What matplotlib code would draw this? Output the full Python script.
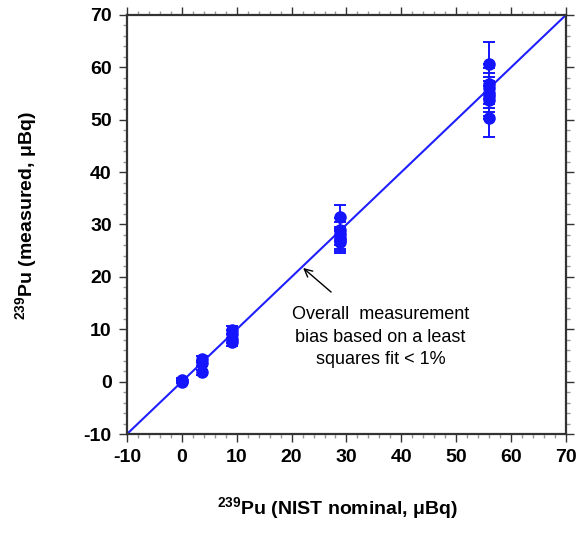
import matplotlib
matplotlib.use("Agg")
import matplotlib.pyplot as plt
from matplotlib.ticker import MultipleLocator

plt.rcParams['font.family'] = ['Liberation Sans', 'DejaVu Sans']
plt.rcParams['mathtext.fontset'] = 'custom'
plt.rcParams['mathtext.rm'] = 'Liberation Sans:bold'
plt.rcParams['mathtext.bf'] = 'Liberation Sans:bold'
plt.rcParams['axes.unicode_minus'] = False

# nominal vs measured 239Pu (uBq)
nominal = [0.0, 0.0, 0.0, 3.7, 3.7, 3.7, 9.2, 9.2, 9.2, 9.2,
           28.9, 28.9, 28.9, 28.9, 28.9, 28.9,
           55.9, 55.9, 55.9, 55.9, 55.9, 55.9, 55.9]
measured = [0.2, 0.4, 0.0, 4.3, 3.5, 1.8, 9.8, 9.0, 8.2, 7.6,
            31.5, 29.0, 28.2, 27.5, 27.0, 26.6,
            60.6, 56.8, 56.0, 55.2, 54.5, 53.8, 50.3]
err = [0.3, 0.3, 0.3, 0.5, 0.5, 0.5, 0.8, 0.8, 0.8, 0.8,
       2.3, 2.2, 2.2, 2.1, 2.1, 2.1,
       4.2, 3.8, 3.8, 3.7, 3.7, 3.6, 3.6]
fit_x = [-10, 70]
fit_y = [-10, 70]

fig = plt.figure(figsize=(5.76, 5.33), dpi=100)
ax = fig.add_axes([0.2205, 0.1857, 0.762, 0.7862])

ax.plot(fit_x, fit_y, color='#1f1fff', lw=1.5, zorder=2)
ax.errorbar(nominal, measured, yerr=err, fmt='o', color='#1414ff', ms=8,
            capsize=4.5, elinewidth=1.4, capthick=1.4, zorder=3)

ax.text(36.2, 8.5, 'Overall  measurement\nbias based on a least\nsquares fit < 1%',
        ha='center', va='center', fontsize=13, linespacing=1.45)
ax.annotate('', xy=(22.1, 21.7), xytext=(27.2, 17.1),
            arrowprops=dict(arrowstyle='->', color='black', lw=1.0,
                            shrinkA=0, shrinkB=0, mutation_scale=14))

ax.set_xlim(-10, 70)
ax.set_ylim(-10, 70)
ax.xaxis.set_major_locator(MultipleLocator(10))
ax.yaxis.set_major_locator(MultipleLocator(10))
ax.xaxis.set_minor_locator(MultipleLocator(2))
ax.yaxis.set_minor_locator(MultipleLocator(2))
ax.tick_params(which='both', direction='out', top=True, right=True,
               color='#333333', width=1.0)
ax.tick_params(which='major', length=6, labelsize=14, pad=5)
ax.tick_params(which='minor', length=3, color='#999999')
for lab in ax.get_xticklabels() + ax.get_yticklabels():
    lab.set_fontweight('bold')
for s in ax.spines.values():
    s.set_linewidth(1.6)
    s.set_color('#333333')

ax.set_xlabel(r'$\mathregular{^{239}}$Pu (NIST nominal, μBq)', fontsize=14,
              fontweight='bold')
ax.set_ylabel(r'$\mathregular{^{239}}$Pu (measured, μBq)', fontsize=14,
              fontweight='bold')
ax.xaxis.set_label_coords(0.48, -0.146)
ax.yaxis.set_label_coords(-0.2, 0.52)

fig.savefig('out.png', dpi=100)
